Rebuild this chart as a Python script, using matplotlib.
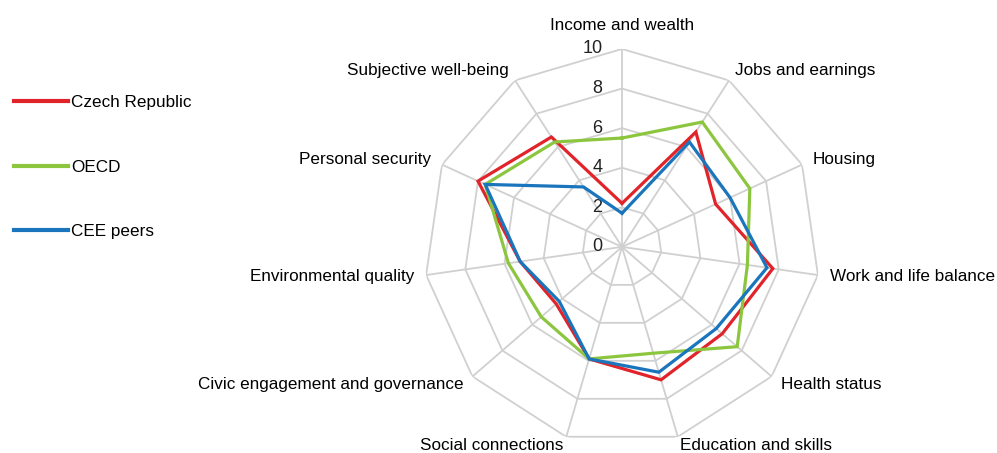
import matplotlib.pyplot as plt
from matplotlib.lines import Line2D
import numpy as np

plt.rcParams['font.family'] = ['Liberation Sans', 'DejaVu Sans']

# Data
categories = ['Income and wealth', 'Jobs and earnings', 'Housing', 'Work and life balance',
              'Health status', 'Education and skills', 'Social connections',
              'Civic engagement and governance', 'Environmental quality',
              'Personal security', 'Subjective well-being']
czech = [2.2, 6.9, 5.2, 7.7, 6.7, 7.0, 5.9, 4.4, 5.2, 8.0, 6.6]
oecd = [5.5, 7.5, 7.1, 6.4, 7.7, 5.6, 5.9, 5.4, 5.8, 7.6, 6.3]
cee = [1.7, 6.3, 6.0, 7.4, 6.3, 6.6, 5.9, 4.2, 5.2, 7.6, 3.6]
ticks = [0, 2, 4, 6, 8, 10]

series = [('Czech Republic', czech, '#e1232a'),
          ('OECD', oecd, '#8cc63f'),
          ('CEE peers', cee, '#1a75bc')]

n = len(categories)
angles = np.linspace(0, 2 * np.pi, n, endpoint=False)
closed = np.append(angles, angles[0])

fig = plt.figure(figsize=(9.97, 4.53), dpi=100)
ax = fig.add_axes([0.4254, 0.018, 0.397, 0.874], projection='polar')
ax.set_theta_offset(np.pi / 2)
ax.set_theta_direction(-1)
ax.set_ylim(0, 10)
ax.grid(False)
ax.spines['polar'].set_visible(False)
ax.set_xticks([])
ax.set_yticks([])
ax.patch.set_visible(False)

# polygon grid
grid_c = '#d0d0d0'
for t in ticks[1:]:
    ax.plot(closed, [t] * (n + 1), color=grid_c, lw=1.3, zorder=1)
for a in angles:
    ax.plot([a, a], [0, 10], color=grid_c, lw=1.3, zorder=1)

# radial labels
for t in ticks:
    ax.annotate(str(t), xy=(0, t), xytext=(-14, 0), textcoords='offset points',
                ha='right', va='center', fontsize=13, color='#222222', zorder=2)

# category labels
for a, lab in zip(angles, categories):
    s = np.sin(a)
    r = 10.6
    if abs(np.cos(a)) > 0.9 and np.cos(a) < 0:
        r = 10.45
    if abs(s) < 0.1:
        ax.text(a, 11.2, lab, ha='center', va='center', fontsize=12.3)
    elif s > 0:
        ax.text(a, r, lab, ha='left', va='center', fontsize=12.3)
    else:
        ax.text(a, r, lab, ha='right', va='center', fontsize=12.3)

for name, vals, col in series:
    ax.plot(closed, vals + vals[:1], color=col, lw=2.3, zorder=3,
            solid_joinstyle='miter')

handles = [Line2D([], [], color=c, lw=3) for _, _, c in series]
fig.legend(handles, [s[0] for s in series], loc='upper left',
           bbox_to_anchor=(0.0, 0.82), frameon=False, fontsize=12.3,
           handlelength=3.2, handletextpad=0.15, labelspacing=2.9,
           borderpad=0.3)

fig.savefig('out.png', dpi=100)
